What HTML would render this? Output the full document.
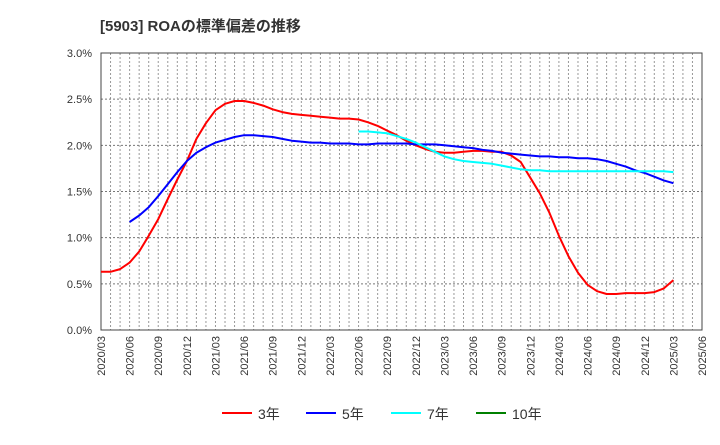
<!DOCTYPE html>
<html><head><meta charset="utf-8"><style>
body{margin:0;background:#fff;}
svg text{font-family:"Liberation Sans","Noto Sans CJK JP",sans-serif;}
</style></head><body>
<svg id="c" width="720" height="440" xmlns="http://www.w3.org/2000/svg">
<text x="100" y="31" font-size="15" font-weight="bold" fill="#333">[5903]  ROAの標準偏差の推移</text>
</svg>
<script>
const xLabels=["2020/03","2020/06","2020/09","2020/12","2021/03","2021/06","2021/09","2021/12","2022/03","2022/06","2022/09","2022/12","2023/03","2023/06","2023/09","2023/12","2024/03","2024/06","2024/09","2024/12","2025/03","2025/06"];
const yTicks=[0,0.5,1.0,1.5,2.0,2.5,3.0];
const seriesNames=["3年","5年","7年","10年"];
const seriesColors=["#ff0000","#0000ff","#00ffff","#008000"];
const s3Start=0;
const s3=[0.63,0.63,0.66,0.73,0.85,1.02,1.20,1.42,1.63,1.83,2.07,2.24,2.38,2.45,2.48,2.48,2.46,2.43,2.39,2.36,2.34,2.33,2.32,2.31,2.30,2.29,2.29,2.28,2.25,2.21,2.16,2.11,2.05,2.00,1.96,1.93,1.92,1.92,1.93,1.94,1.94,1.93,1.93,1.89,1.82,1.65,1.48,1.27,1.02,0.80,0.62,0.49,0.42,0.39,0.39,0.40,0.40,0.40,0.41,0.45,0.54];
const s5Start=3;
const s5=[1.17,1.24,1.33,1.45,1.58,1.71,1.83,1.92,1.98,2.03,2.06,2.09,2.11,2.11,2.10,2.09,2.07,2.05,2.04,2.03,2.03,2.02,2.02,2.02,2.01,2.01,2.02,2.02,2.02,2.02,2.01,2.01,2.01,2.00,1.99,1.98,1.97,1.95,1.94,1.92,1.91,1.90,1.89,1.88,1.88,1.87,1.87,1.86,1.86,1.85,1.83,1.80,1.77,1.73,1.70,1.66,1.62,1.59];
const s7Start=27;
const s7=[2.15,2.15,2.14,2.13,2.10,2.07,2.03,1.98,1.93,1.88,1.85,1.83,1.82,1.81,1.80,1.78,1.76,1.74,1.73,1.73,1.72,1.72,1.72,1.72,1.72,1.72,1.72,1.72,1.72,1.72,1.72,1.72,1.72,1.71];
const s10Start=0;
const s10=[];

const NS="http://www.w3.org/2000/svg";
const svg=document.getElementById('c');
const L=101,R=702,T=53,B=330,months=63;
const X=i=>L+i*(R-L)/months;
const Y=v=>B-v/3.0*(B-T);
function mk(tag,attrs,parent){const e=document.createElementNS(NS,tag);for(const k in attrs)e.setAttribute(k,attrs[k]);(parent||svg).appendChild(e);return e;}
const grid=mk('g',{});


for(let i=1;i<months;i++){mk('line',{x1:X(i),x2:X(i),y1:T,y2:B,stroke:'#999','stroke-width':1,'stroke-dasharray':'2,2'},grid);}
yTicks.forEach(v=>{if(v>0&&v<3)mk('line',{x1:L,x2:R,y1:Y(v),y2:Y(v),stroke:'#777','stroke-width':1,'stroke-dasharray':'2,2'},grid);
const t=mk('text',{x:92,y:Y(v)+4,'text-anchor':'end','font-size':11,fill:'#333'});t.textContent=v.toFixed(1)+'%';

});
xLabels.forEach((lab,k)=>{const x=X(k*3);const t=mk('text',{transform:`translate(${x+4},336) rotate(-90)`,'text-anchor':'end','font-size':11,fill:'#333'});t.textContent=lab;

});
const frame=mk('rect',{x:L,y:T,width:R-L,height:B-T,fill:'none',stroke:'#444','stroke-width':1});


function line(arr,start,color,name){if(!arr.length)return;const p=mk('polyline',{points:arr.map((v,i)=>X(start+i).toFixed(1)+','+Y(v).toFixed(1)).join(' '),fill:'none',stroke:color,'stroke-width':2,'stroke-linejoin':'round'});

}
line(s3,s3Start,seriesColors[0],'series-3y');
line(s5,s5Start,seriesColors[1],'series-5y');
line(s7,s7Start,seriesColors[2],'series-7y');
line(s10,s10Start,seriesColors[3],'series-10y');
const lx=[222,306,391,476];
seriesNames.forEach((n,i)=>{const g=mk('g',{});


mk('line',{x1:lx[i],x2:lx[i]+30,y1:413,y2:413,stroke:seriesColors[i],'stroke-width':2},g);
const t=mk('text',{x:lx[i]+36,y:419,'font-size':14,fill:'#333'},g);t.textContent=n;});
</script>
</body></html>
